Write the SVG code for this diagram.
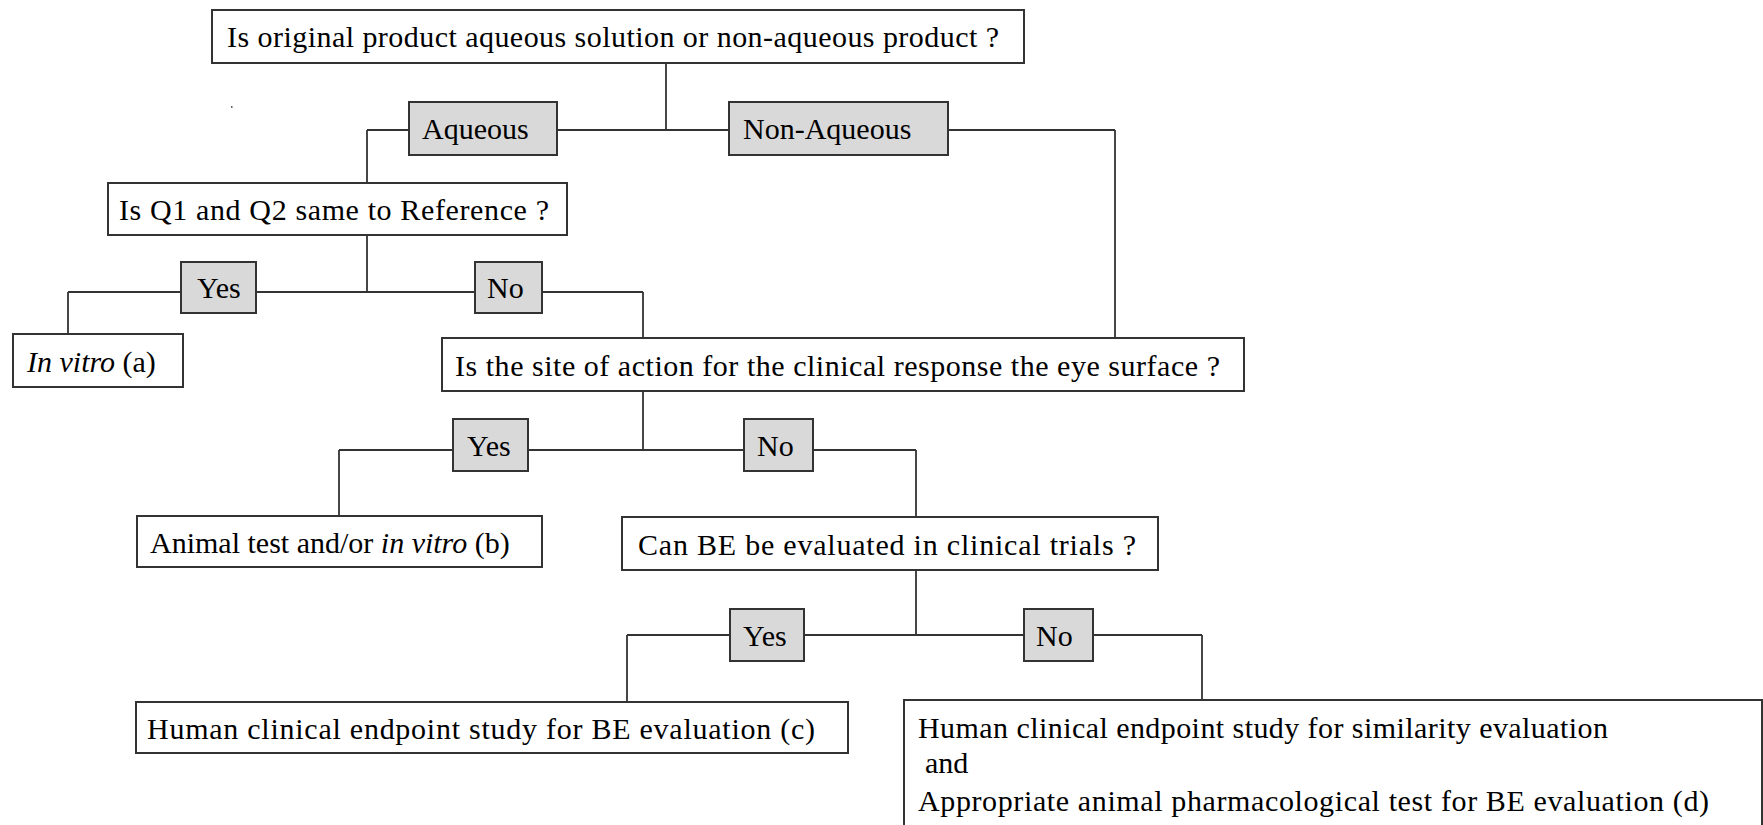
<svg xmlns="http://www.w3.org/2000/svg" width="1763" height="825" viewBox="0 0 1763 825">
<style>
.box{fill:#ffffff;stroke:#333333;stroke-width:2}
.lbl{fill:#d9d9d9;stroke:#333333;stroke-width:2}
.t{font-family:"Liberation Serif","Times New Roman",serif;font-size:30px;fill:#000000}
.i{font-style:italic}
.c line{stroke:#333333;stroke-width:1.8}
</style>
<rect width="1763" height="825" fill="#ffffff"/>
<g class="c" id="connectors">
<line x1="666" y1="63" x2="666" y2="130"/>
<line x1="367" y1="130" x2="1115" y2="130"/>
<line x1="367" y1="130" x2="367" y2="183"/>
<line x1="1115" y1="130" x2="1115" y2="338"/>
<line x1="367" y1="235" x2="367" y2="292"/>
<line x1="68" y1="292" x2="643" y2="292"/>
<line x1="68" y1="292" x2="68" y2="334"/>
<line x1="643" y1="292" x2="643" y2="338"/>
<line x1="643" y1="391" x2="643" y2="450"/>
<line x1="339" y1="450" x2="916" y2="450"/>
<line x1="339" y1="450" x2="339" y2="516"/>
<line x1="916" y1="450" x2="916" y2="517"/>
<line x1="916" y1="570" x2="916" y2="635"/>
<line x1="627" y1="635" x2="1202" y2="635"/>
<line x1="627" y1="635" x2="627" y2="702"/>
<line x1="1202" y1="635" x2="1202" y2="700"/>
</g>
<rect x="231" y="106" width="1.5" height="2" fill="#666666"/>
<g id="q-original">
<rect class="box" x="212" y="10" width="812" height="53"/>
<text class="t" x="227" y="47" textLength="772">Is original product aqueous solution or non-aqueous product ?</text>
</g>
<g id="lbl-aqueous">
<rect class="lbl" x="409" y="102" width="148" height="53"/>
<text class="t" x="422" y="139">Aqueous</text>
</g>
<g id="lbl-nonaqueous">
<rect class="lbl" x="729" y="102" width="219" height="53"/>
<text class="t" x="743" y="139">Non-Aqueous</text>
</g>
<g id="q-q1q2">
<rect class="box" x="108" y="183" width="459" height="52"/>
<text class="t" x="119" y="220" textLength="430">Is Q1 and Q2 same to Reference ?</text>
</g>
<g id="lbl-yes1">
<rect class="lbl" x="181" y="262" width="75" height="51"/>
<text class="t" x="197" y="298">Yes</text>
</g>
<g id="lbl-no1">
<rect class="lbl" x="475" y="262" width="67" height="51"/>
<text class="t" x="487" y="298">No</text>
</g>
<g id="res-a">
<rect class="box" x="13" y="334" width="170" height="53"/>
<text class="t" x="27" y="372"><tspan class="i">In vitro</tspan> (a)</text>
</g>
<g id="q-site">
<rect class="box" x="442" y="338" width="802" height="53"/>
<text class="t" x="455" y="376" textLength="765">Is the site of action for the clinical response the eye surface ?</text>
</g>
<g id="lbl-yes2">
<rect class="lbl" x="453" y="419" width="75" height="52"/>
<text class="t" x="467" y="456">Yes</text>
</g>
<g id="lbl-no2">
<rect class="lbl" x="744" y="419" width="69" height="52"/>
<text class="t" x="757" y="456">No</text>
</g>
<g id="res-b">
<rect class="box" x="137" y="516" width="405" height="51"/>
<text class="t" x="150" y="553">Animal test and/or <tspan class="i">in vitro</tspan> (b)</text>
</g>
<g id="q-clinical">
<rect class="box" x="622" y="517" width="536" height="53"/>
<text class="t" x="638" y="555" textLength="498">Can BE be evaluated in clinical trials ?</text>
</g>
<g id="lbl-yes3">
<rect class="lbl" x="730" y="609" width="74" height="52"/>
<text class="t" x="743" y="646">Yes</text>
</g>
<g id="lbl-no3">
<rect class="lbl" x="1024" y="609" width="69" height="52"/>
<text class="t" x="1036" y="646">No</text>
</g>
<g id="res-c">
<rect class="box" x="136" y="702" width="712" height="51"/>
<text class="t" x="147" y="739" textLength="668">Human clinical endpoint study for BE evaluation (c)</text>
</g>
<g id="res-d">
<rect class="box" x="904" y="700" width="858" height="135"/>
<text class="t" x="918" y="738" textLength="690">Human clinical endpoint study for similarity evaluation</text>
<text class="t" x="925" y="773">and</text>
<text class="t" x="918" y="811" textLength="791">Appropriate animal pharmacological test for BE evaluation (d)</text>
</g>
</svg>
